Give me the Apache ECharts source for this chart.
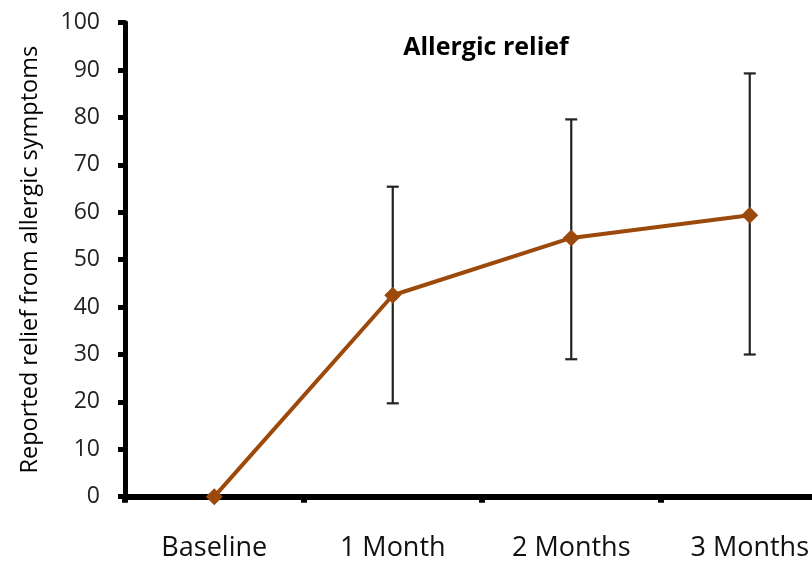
<!DOCTYPE html>
<html><head><meta charset="utf-8">
<script src="https://cdn.jsdelivr.net/npm/echarts@6/dist/echarts.min.js"></script>
<style>html,body{margin:0;padding:0;background:#fff}#c{width:812px;height:563px}</style>
</head><body><div id="c"></div>
<script>
var categories = ['Baseline', '1 Month', '2 Months', '3 Months'];
var relief = [0, 42.5, 54.6, 59.4];
var errLow = [null, 19.7, 29.0, 30.0];
var errHigh = [null, 65.4, 79.6, 89.3];
var yTicks = [0, 10, 20, 30, 40, 50, 60, 70, 80, 90, 100];

var FONT = '"Open Sans", Lato, sans-serif';
var chart = echarts.init(document.getElementById('c'), null, {renderer: 'canvas'});
var errData = categories.map(function (c, i) { return [i, errLow[i], errHigh[i]]; })
  .filter(function (d) { return d[1] != null; });

chart.setOption({
  animation: false,
  title: {
    text: 'Allergic relief', left: 481, top: 30, textAlign: 'center',
    textStyle: {fontFamily: FONT, fontWeight: 'bold', fontSize: 25, color: '#000'}
  },
  grid: {left: 125, top: 22.7, bottom: 66.3, width: 714, containLabel: false, outerBoundsMode: 'none'},
  xAxis: {
    type: 'category', data: categories, boundaryGap: true,
    axisLine: {lineStyle: {color: '#000', width: 6}},
    axisTick: {show: true, length: 6, lineStyle: {color: '#000', width: 6}},
    axisLabel: {fontFamily: FONT, fontSize: 27, color: '#111', margin: 38}
  },
  yAxis: {
    type: 'value', min: yTicks[0], max: yTicks[yTicks.length - 1], interval: 10,
    name: 'Reported relief from allergic symptoms', nameLocation: 'middle', nameGap: 83,
    nameTextStyle: {fontFamily: FONT, fontSize: 23.5, color: '#000'},
    axisLine: {show: true, lineStyle: {color: '#000', width: 5}},
    axisTick: {show: true, length: 7, lineStyle: {color: '#000', width: 5}},
    axisLabel: {fontFamily: FONT, fontSize: 23, color: '#222', margin: 25},
    splitLine: {show: false}
  },
  series: [
    {
      type: 'custom', z: 1,
      renderItem: function (params, api) {
        var x = api.value(0);
        var lo = api.coord([x, api.value(1)]);
        var hi = api.coord([x, api.value(2)]);
        var cw = 6;
        var st = {stroke: '#222', lineWidth: 2.2};
        return {type: 'group', children: [
          {type: 'line', shape: {x1: lo[0], y1: lo[1], x2: hi[0], y2: hi[1]}, style: st},
          {type: 'line', shape: {x1: lo[0] - cw, y1: lo[1], x2: lo[0] + cw, y2: lo[1]}, style: st},
          {type: 'line', shape: {x1: hi[0] - cw, y1: hi[1], x2: hi[0] + cw, y2: hi[1]}, style: st}
        ]};
      },
      encode: {x: 0, y: [1, 2]},
      data: errData
    },
    {
      type: 'line', z: 3, data: relief,
      symbol: 'diamond', symbolSize: 17,
      lineStyle: {color: '#9c4a0c', width: 4},
      itemStyle: {color: '#9c4a0c'}
    }
  ]
});
</script></body></html>
